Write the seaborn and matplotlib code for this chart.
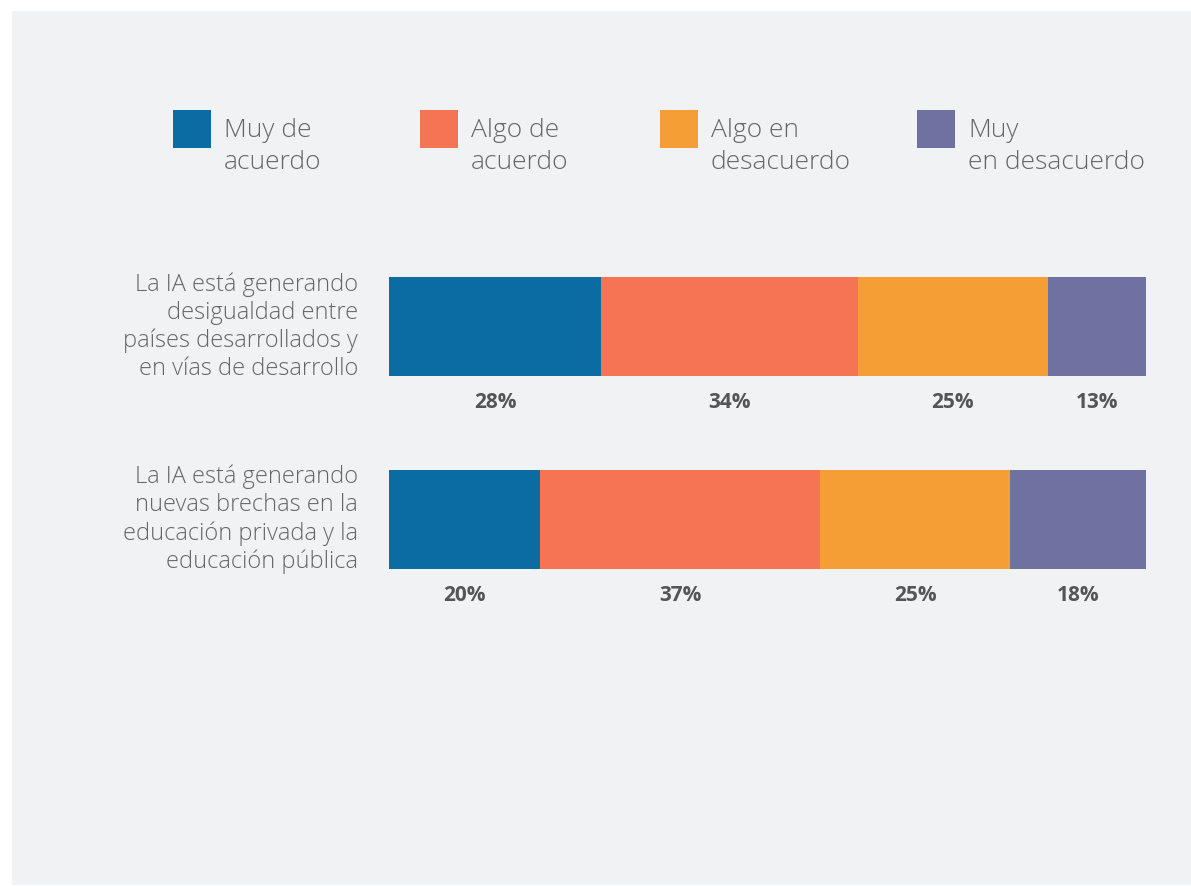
import matplotlib
matplotlib.use("Agg")
import matplotlib.pyplot as plt
import matplotlib.patches as mpatches
import pandas as pd
import seaborn as sns

# data
statements = [
    "La IA está generando\ndesigualdad entre\npaíses desarrollados y\nen vías de desarrollo",
    "La IA está generando\nnuevas brechas en la\neducación privada y la\neducación pública",
]
answers = ["Muy de\nacuerdo", "Algo de\nacuerdo", "Algo en\ndesacuerdo", "Muy\nen desacuerdo"]
muy_de_acuerdo = [28, 20]
algo_de_acuerdo = [34, 37]
algo_en_desacuerdo = [25, 25]
muy_en_desacuerdo = [13, 18]

colors = ["#0b6ca3", "#f47453", "#f59e35", "#6f72a0"]
bg = "#f1f2f4"
label_col = "#666666"
pct_col = "#555555"

df = pd.DataFrame({
    "statement": statements,
    answers[0]: muy_de_acuerdo,
    answers[1]: algo_de_acuerdo,
    answers[2]: algo_en_desacuerdo,
    answers[3]: muy_en_desacuerdo,
})
cum = df[answers].cumsum(axis=1)
cum["statement"] = df["statement"]

sns.set_theme(style="white")
plt.rcParams["font.family"] = ["Open Sans", "DejaVu Sans"]

W, H = 1191, 886
fig = plt.figure(figsize=(W / 100, H / 100), dpi=100)
fig.patch.set_facecolor("white")
fig.patches.append(mpatches.Rectangle((12 / W, 1 - 885 / H), (W - 12) / W, 874 / H,
                                      transform=fig.transFigure, figure=fig,
                                      facecolor=bg, edgecolor="none", zorder=-5))

bar_h = 99 / 193
ax = fig.add_axes([389 / W, 1 - 569 / H, 757 / W, 292 / H])
ax.set_facecolor("none")
ax.set_zorder(2)

# stacked bars: draw cumulative totals from the last answer backwards
for ans, col in reversed(list(zip(answers, colors))):
    sns.barplot(data=cum, x=ans, y="statement", orient="h", color=col,
                saturation=1, width=bar_h, linewidth=0, ax=ax)

ax.set_xlim(0, 100)
ax.set_ylim(1 + bar_h / 2, -bar_h / 2)
ax.set_xticks([])
ax.set_yticks([])
ax.set_xlabel("")
ax.set_ylabel("")
sns.despine(ax=ax, left=True, bottom=True)

# percentage labels under each segment
for i in range(len(statements)):
    for ans in answers:
        val = df.loc[i, ans]
        mid = cum.loc[i, ans] - val / 2
        ax.text(mid, i + bar_h / 2 + 32 / 193, f"{val}%", ha="center", va="baseline",
                fontsize=15, fontweight="bold", color=pct_col)

# statement labels
for i, s in enumerate(statements):
    ax.text(-31 / 757 * 100, i, s, ha="right", va="center", fontsize=17,
            fontweight="light", color=label_col, linespacing=1.21, clip_on=False)

# legend
leg_x = [173, 420, 660, 917]
for x, ans, col in zip(leg_x, answers, colors):
    fig.patches.append(mpatches.Rectangle((x / W, 1 - 148 / H), 38 / W, 38 / H,
                                          transform=fig.transFigure, figure=fig,
                                          facecolor=col, edgecolor="none"))
    fig.text((x + 51) / W, 1 - 169 / H, ans, ha="left", va="baseline", fontsize=19,
             fontweight="light", color=label_col, linespacing=1.38)

fig.savefig("out.png", dpi=100, facecolor=fig.get_facecolor())
